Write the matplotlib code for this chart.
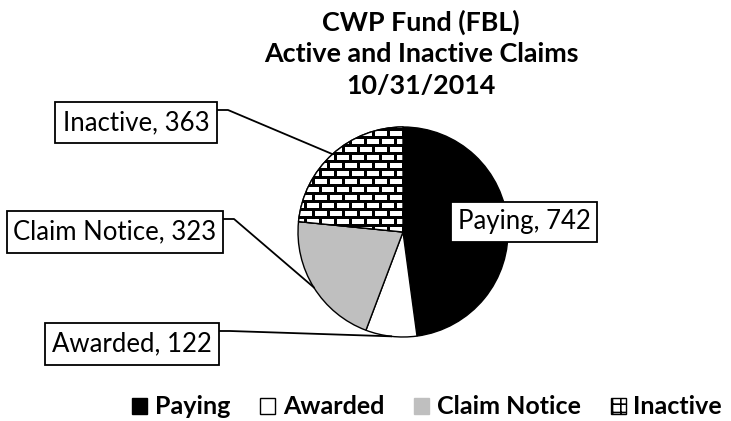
import numpy as np
import matplotlib.pyplot as plt
from matplotlib.patches import Patch, Rectangle, Wedge
from matplotlib.collections import PatchCollection

plt.rcParams["font.family"] = "Lato"

labels = ["Paying", "Awarded", "Claim Notice", "Inactive"]
counts = [742, 122, 323, 363]
colors = ["black", "white", "#bfbfbf", "black"]
title_lines = ["CWP Fund (FBL)", "Active and Inactive Claims", "10/31/2014"]

W, H = 731, 421
CX, CY, R = 403, H - 232, 105

# label boxes in pixel coords (left, top, right, bottom), y from top
boxes = {
    "Inactive": (55, 102, 217, 143),
    "Claim Notice": (7, 211, 223, 253),
    "Awarded": (45, 323, 219, 365),
    "Paying": (451, 202, 597, 242),
}

fig = plt.figure(figsize=(W / 100, H / 100), dpi=100)
ax = fig.add_axes([0, 0, 1, 1])

wedges, _ = ax.pie(counts, colors=colors, startangle=90, counterclock=False,
                   center=(CX, CY), radius=R, frame=True,
                   wedgeprops=dict(edgecolor="black", linewidth=1))
ax.set_xlim(0, W)
ax.set_ylim(0, H)
ax.axis("off")

# brick fill for the inactive slice
inact = wedges[3]
bricks = []
for j, y in enumerate(np.arange(CY - R - 8, CY + R + 8, 8)):
    off = 7.5 if j % 2 else 0
    for x in np.arange(CX - R - 15 + off, CX + R + 15, 15):
        bricks.append(Rectangle((x + 1.5, y + 1.5), 12, 5))
pc = PatchCollection(bricks, facecolor="white", edgecolor="none", zorder=inact.get_zorder() + 0.1)
ax.add_collection(pc)
pc.set_clip_path(inact)
ax.add_patch(Wedge((CX, CY), R, inact.theta1, inact.theta2, fill=False,
                   edgecolor="black", linewidth=1, zorder=inact.get_zorder() + 0.2))

# data labels with leader lines
for w, lab, n in zip(wedges, labels, counts):
    x0, t, x1, b = boxes[lab]
    ax.add_patch(Rectangle((x0, H - b), x1 - x0, b - t, facecolor="white",
                           edgecolor="black", linewidth=1.3, zorder=5))
    ax.text((x0 + x1) / 2, H - (t + b) / 2, f"{lab}, {n}", ha="center", va="center",
            fontsize=18.5, zorder=6)
    if lab != "Paying":
        ang = np.deg2rad((w.theta1 + w.theta2) / 2)
        px, py = CX + R * np.cos(ang), CY + R * np.sin(ang)
        yy = H - (t + 8)
        ax.plot([x1, x1 + 11, px], [yy, yy, py], color="black", lw=1.3, zorder=4)

# title
for i, line in enumerate(title_lines):
    fig.text(421 / W, 1 - (22 + 32 * i) / H, line, ha="center", va="center",
             fontsize=19.4, fontweight="bold")

# legend
plt.rcParams["hatch.linewidth"] = 1.2
handles = [
    Patch(facecolor="black", edgecolor="black"),
    Patch(facecolor="white", edgecolor="black", linewidth=1),
    Patch(facecolor="#bfbfbf", edgecolor="#bfbfbf"),
    Patch(facecolor="white", edgecolor="black", hatch="++", linewidth=1),
]
fig.legend(handles, labels, loc="center", bbox_to_anchor=(427 / W, 1 - 407 / H),
           ncol=4, frameon=False, handlelength=0.6, handleheight=0.6,
           handletextpad=0.3, columnspacing=1.2, borderaxespad=0, borderpad=0,
           prop=dict(size=18, weight="bold"))

fig.savefig("out.png", dpi=100)
